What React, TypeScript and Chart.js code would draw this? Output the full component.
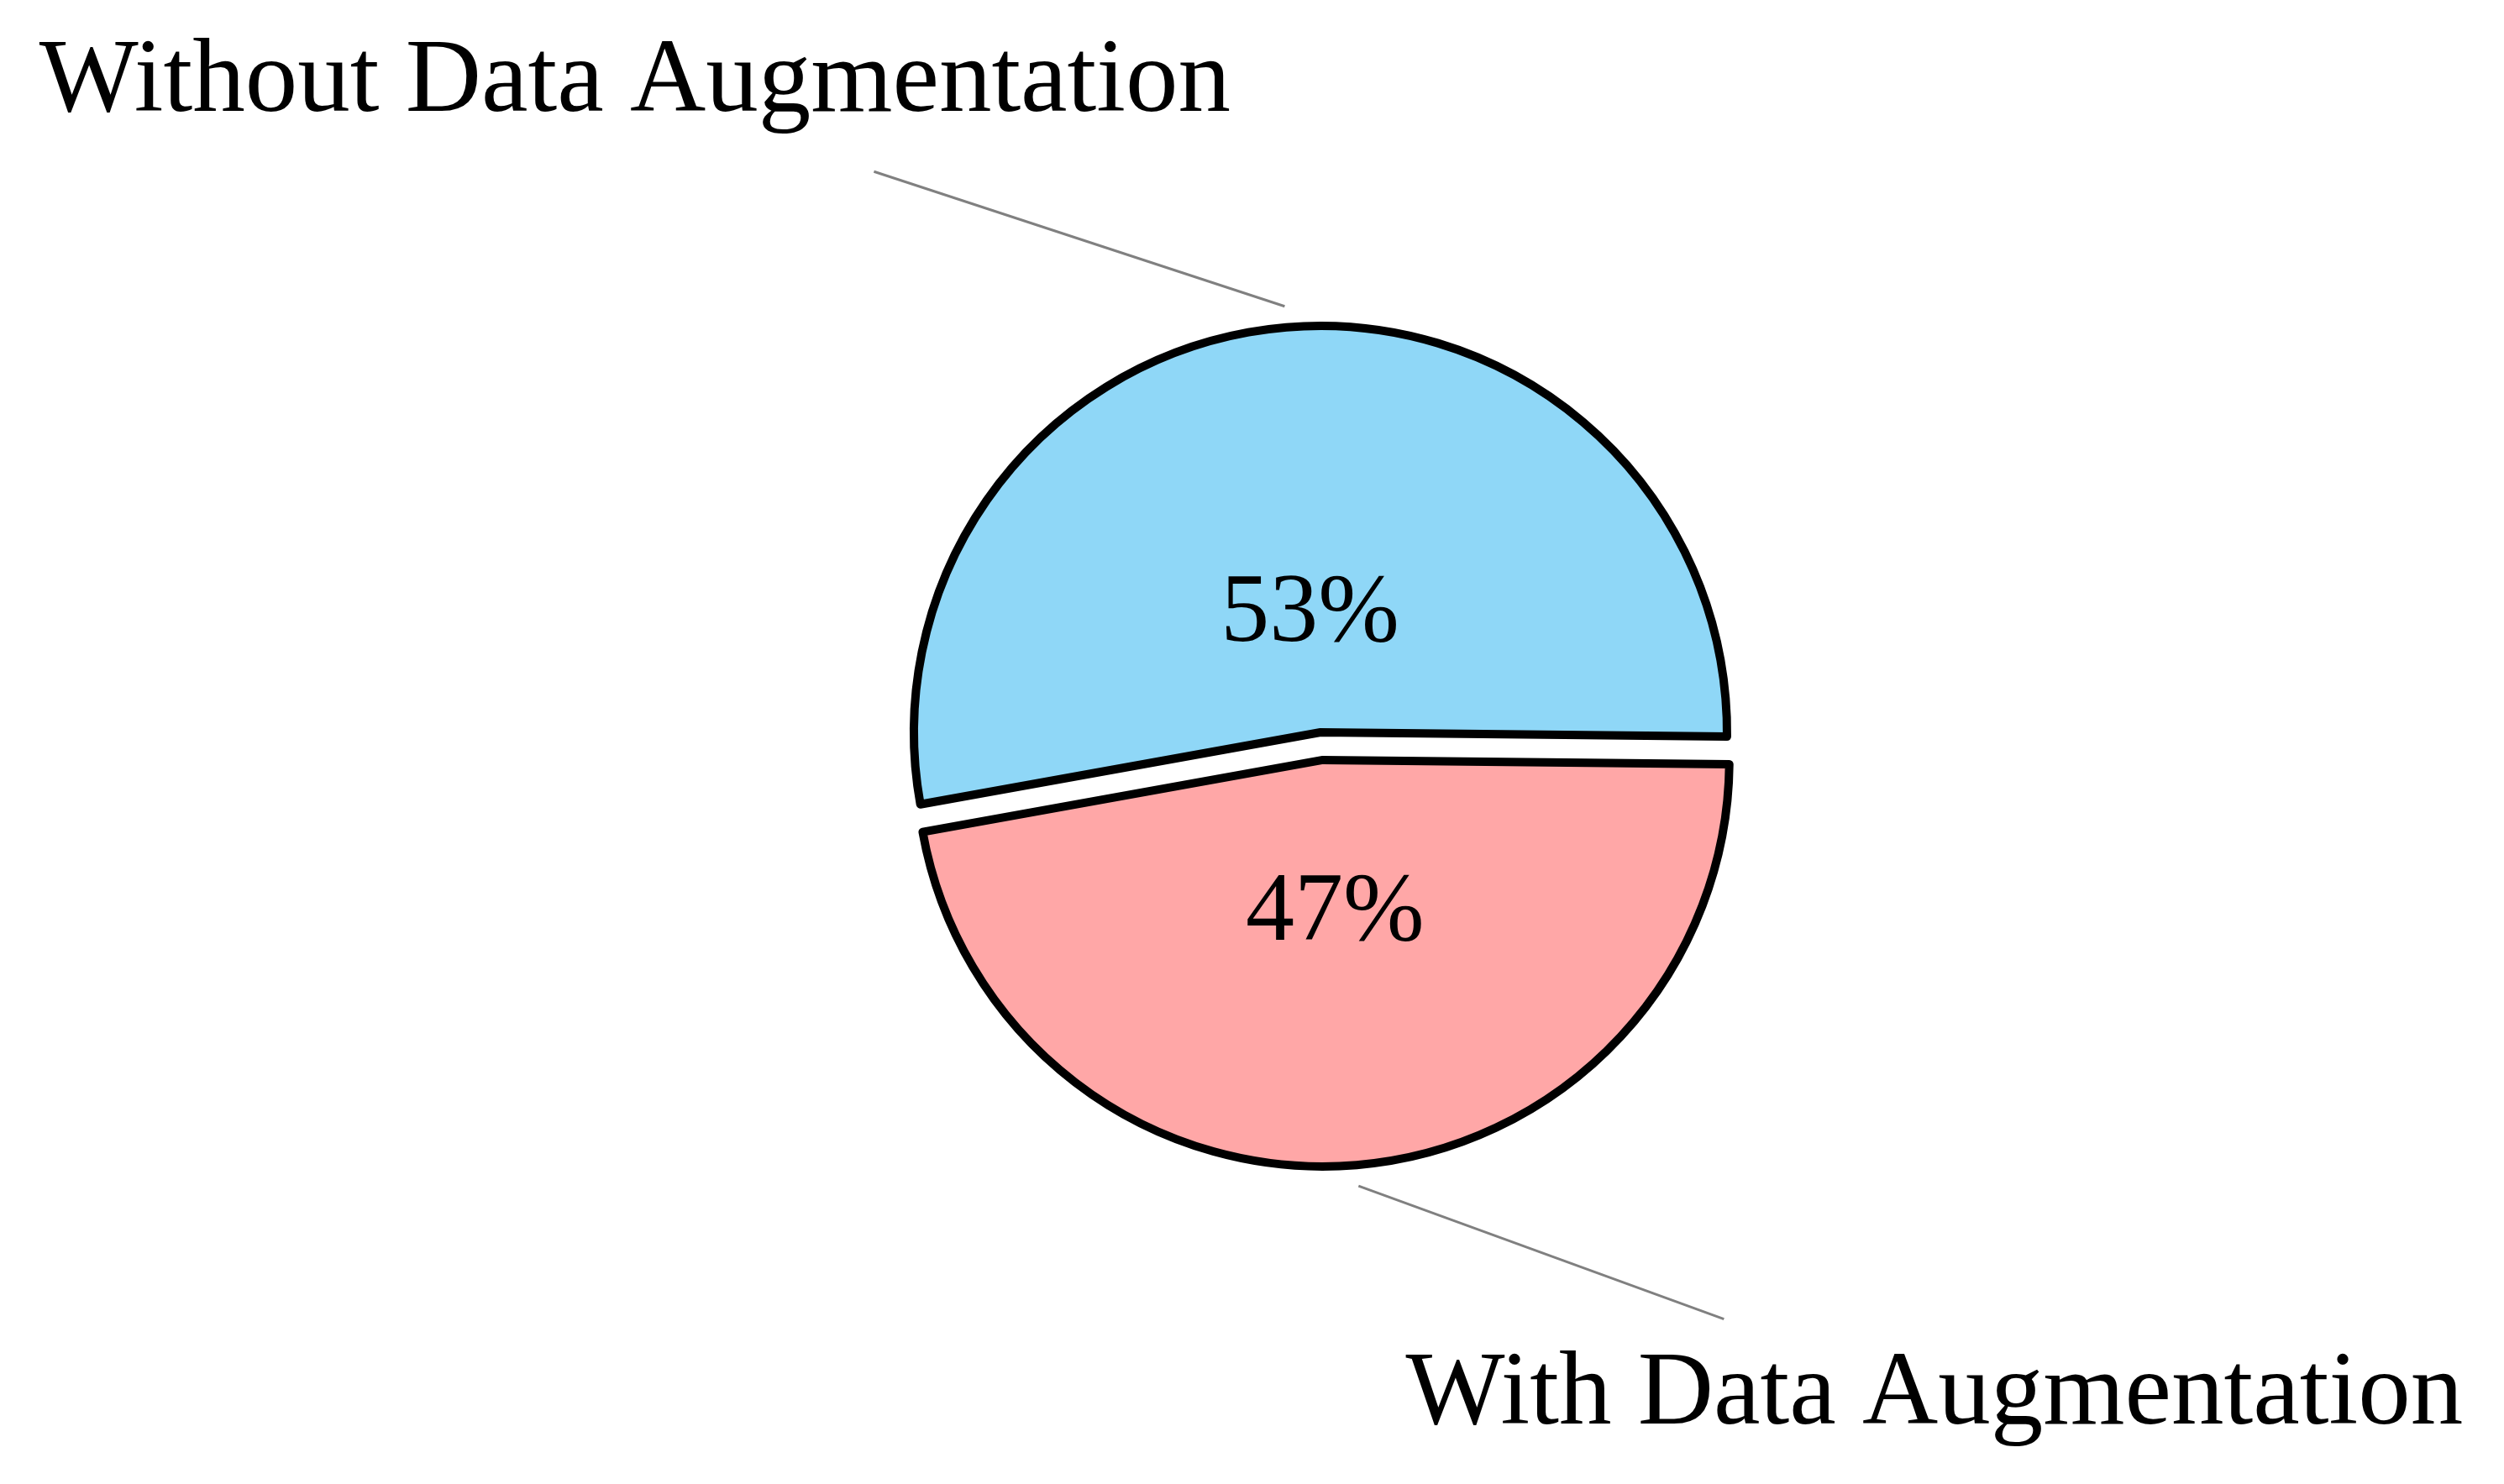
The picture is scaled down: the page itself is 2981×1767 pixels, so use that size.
import React, { useEffect, useRef } from 'react';
import { Chart, registerables } from 'chart.js';

Chart.register(...registerables);

const categories = ['With Data Augmentation', 'Without Data Augmentation'];
const shares = [47, 53];
const pctLabels = ['47%', '53%'];
const sliceColors = ['#ffa7a7', '#8fd7f7'];
const sliceExplode = [33, 0];

const FONT = '"Liberation Serif", "Times New Roman", serif';

function sliceGeometry(arc: any, i: number) {
  const { x, y, startAngle, endAngle, outerRadius } = arc;
  const mid = (startAngle + endAngle) / 2;
  const dx = Math.cos(mid);
  const dy = Math.sin(mid);
  const shift = sliceExplode[i] || 0;
  return { cx: x + dx * shift, cy: y + dy * shift, dx, dy, r: outerRadius, sx: dx * shift, sy: dy * shift };
}

const explodePlugin = {
  id: 'explodeSlices',
  beforeDatasetsDraw(chart: any) {
    const meta = chart.getDatasetMeta(0);
    meta.data.forEach((arc: any, i: number) => {
      if (arc.__exploded) return;
      const orig = arc.draw;
      arc.draw = function (ctx: any, area: any) {
        const g = sliceGeometry(this, i);
        ctx.save();
        ctx.translate(g.sx, g.sy);
        orig.call(this, ctx, area);
        ctx.restore();
      };
      arc.__exploded = true;
    });
  },
};

const labelPlugin = {
  id: 'outerLabels',
  afterDatasetsDraw(chart: any) {
    const ctx = chart.ctx;
    const meta = chart.getDatasetMeta(0);
    const cfg = chart.options.plugins.outerLabels;
    meta.data.forEach((arc: any, i: number) => {
      const { cx, cy, dx, dy, r } = sliceGeometry(arc, i);
      ctx.save();
      ctx.fillStyle = '#000';
      ctx.textAlign = 'center';
      ctx.textBaseline = 'alphabetic';
      const d = r * cfg.pctDistance[i];
      ctx.font = `${cfg.pctSize}px ${FONT}`;
      ctx.fillText(pctLabels[i], cx + dx * d, cy + dy * d + cfg.pctHalfHeight);
      const p1x = cx + dx * (r + cfg.leaderGap);
      const p1y = cy + dy * (r + cfg.leaderGap);
      const l = cfg.leaders[i];
      const p2x = p1x + l.dx;
      const p2y = p1y + l.dy;
      ctx.strokeStyle = '#808080';
      ctx.lineWidth = 3;
      ctx.beginPath();
      ctx.moveTo(p1x, p1y);
      ctx.lineTo(p2x, p2y);
      ctx.stroke();
      ctx.font = `${cfg.labelSize}px ${FONT}`;
      ctx.fillText(categories[i], p2x + l.tx, p2y + l.ty);
      ctx.restore();
    });
  },
};

export default function App() {
  const ref = useRef<HTMLCanvasElement | null>(null);
  useEffect(() => {
    if (!ref.current) return;
    const chart = new Chart(ref.current, {
      type: 'pie',
      data: {
        labels: categories,
        datasets: [
          {
            data: shares,
            backgroundColor: sliceColors,
            borderColor: '#000000',
            borderWidth: 10,
            borderJoinStyle: 'round',
          } as any,
        ],
      },
      options: {
        animation: false,
        responsive: true,
        maintainAspectRatio: false,
        rotation: 90.6,
        radius: 484,
        layout: { padding: { left: 163, right: 0, top: 0, bottom: 23 } },
        events: [],
        plugins: {
          legend: { display: false },
          tooltip: { enabled: false },
          outerLabels: {
            pctDistance: [0.36, 0.309],
            pctSize: 116,
            pctHalfHeight: 40,
            labelSize: 125,
            leaderGap: 25,
            leaders: [
              { dx: 435, dy: 158.5, tx: 250.5, ty: 124 },
              { dx: -489, dy: -160.5, tx: -284.5, ty: -72 },
            ],
          },
        } as any,
      },
      plugins: [explodePlugin, labelPlugin],
    });
    return () => chart.destroy();
  }, []);
  return (
    <div style={{ position: 'absolute', left: 0, top: 0, width: 2981, height: 1767, background: '#fff' }}>
      <canvas ref={ref} />
    </div>
  );
}
